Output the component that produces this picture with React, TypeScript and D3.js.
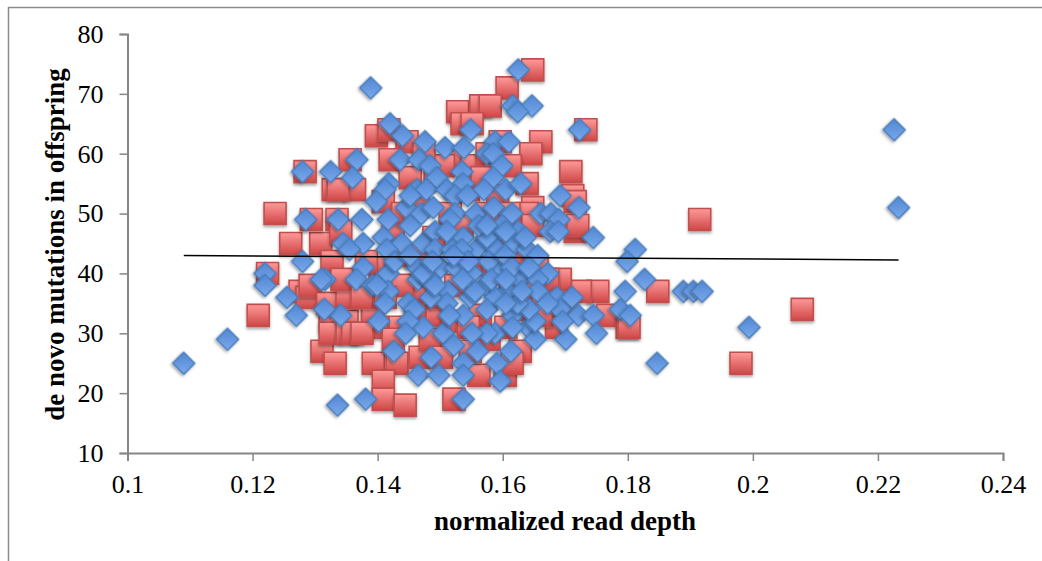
import React, { useEffect, useRef } from 'react'
import * as d3 from 'd3'

// normalized read depth, de novo mutations
const redPoints: [number, number][] = [
  [.1648,74],[.1607,71],[.1528,67],[.1565,68],[.158,68],[.1733,64],[.1398,63],[.1418,64],[.1447,62],[.1535,65],[.1551,65],
  [.1661,62],[.1645,60],[.1356,59],[.142,59],[.1709,57],[.1712,53],[.1329,54],[.1363,54],[.1452,56],[.1639,55],[.1648,51],
  [.1639,50],[.1716,52],[.1716,47],[.172,48],[.1648,48],[.1521,59],[.1596,62],[.1551,58],[.1612,58],[.1575,60],[.1409,52],
  [.1335,49],[.1284,57],[.1236,50],[.1261,45],[.1309,45],[.1294,49],[.1337,54],[.1224,40],[.1327,42],[.1341,47],[.1209,33],
  [.1311,27],[.1332,25],[.1276,37],[.1287,36],[.1292,38],[.1324,32],[.1351,32],[.1324,30],[.1351,30],[.132,35],[.136,30],
  [.1393,25],[.1431,25],[.1409,22],[.1409,19],[.1444,18],[.1522,19],[.1562,23],[.1604,23],[.1628,27],[.1615,25],[.1468,26],
  [.1503,28],[.1399,31],[.1351,36],[.1436,31],[.1484,29],[.1752,37],[.1724,37],[.1692,39],[.1768,33],[.1799,31],[.1686,31],
  [.1392,34],[.1392,33],[.1462,34],[.1564,33],[.1495,33],[.1915,49],[.1848,37],[.1802,31],[.2079,34],[.1981,25],[.1343,39],
  [.1375,36],[.1404,41],[.1425,47],[.144,50],[.1465,52],[.1492,56],[.1505,58],[.1474,60],[.1431,43],[.1462,43],[.149,46],
  [.1516,50],[.1545,54],[.1567,56],[.1592,53],[.161,50],[.1628,43],[.1655,41],[.1672,39],[.1642,37],[.1612,39],[.1584,41],
  [.1548,42],[.1525,38],[.1498,36],[.1468,37],[.144,38],[.1412,36],[.1382,42],[.152,32],[.1545,31],[.1578,29],[.1605,31],
  [.1635,34],[.1665,35],[.1702,35],[.1662,33],[.1548,27],[.1502,26],[.1425,29],[.1375,30],[.1596,45],[.1575,50],[.1535,48],
]

const bluePoints: [number, number][] = [
  [.1625,74],[.1389,71],[.1616,68],[.1647,68],[.1624,67],[.1723,64],[.1549,64],[.142,65],[.144,63],[.1476,62],[.1508,61],
  [.1538,61],[.1588,62],[.161,62],[.1575,60],[.1585,60],[.1367,59],[.136,56],[.1436,59],[.1466,59],[.1484,58],[.1599,58],
  [.1535,57],[.1495,56],[.1537,55],[.1585,56],[.1418,55],[.1412,54],[.1398,52],[.1463,54],[.1478,54],[.1511,54],[.1524,53],
  [.157,54],[.1605,54],[.1629,55],[.1692,53],[.1722,51],[.1544,53],[.1446,51],[.1452,53],[.147,50],[.1524,50],[.1516,49],
  [.1489,51],[.1557,50],[.1586,51],[.1615,50],[.1661,50],[.1677,50],[.169,49],[.1337,49],[.1375,49],[.1417,49],[.1452,48],
  [.1599,48],[.1625,47],[.1676,47],[.1689,47],[.1745,46],[.1345,45],[.1377,45],[.1409,46],[.1439,45],[.1473,45],[.1492,47],
  [.1537,46],[.1585,46],[.162,45],[.1639,44],[.1656,43],[.1355,44],[.1415,44],[.1492,44],[.1558,44],[.1519,44],[.1535,44],
  [.1592,44],[.1575,46],[.1636,46],[.1562,48],[.1575,48],[.1605,47],[.1511,47],[.1377,41],[.1366,39],[.1392,38],[.1417,40],
  [.1463,41],[.1501,41],[.1551,40],[.1596,41],[.1628,39],[.1672,40],[.1656,39],[.1572,38],[.1607,37],[.1656,37],[.1417,37],
  [.1465,39],[.1484,39],[.1473,40],[.1513,37],[.1548,36],[.1511,35],[.1412,35],[.1449,35],[.1459,34],[.1588,36],[.1687,36],
  [.1711,36],[.1692,34],[.1672,35],[.1721,33],[.1745,33],[.175,30],[.1701,29],[.1696,32],[.1641,31],[.1652,29],[.1652,32],
  [.1616,33],[.1642,34],[.1624,35],[.1588,30],[.1575,30],[.1616,31],[.1551,30],[.1537,33],[.1505,30],[.1522,28],[.156,27],
  [.1613,27],[.1591,25],[.1537,25],[.1486,26],[.1426,27],[.1473,31],[.1449,32],[.1445,30],[.1402,32],[.1341,33],[.1465,23],
  [.1498,23],[.1537,23],[.1596,22],[.1537,19],[.1381,19],[.1336,18],[.1316,39],[.1428,42],[.1556,37],[.1578,42],[.1525,41],
  [.1604,43],[.1545,42],[.1488,42],[.1615,41],[.1642,41],[.1631,37],[.1575,34],[.1605,35],[.1515,33],[.1485,36],[.1582,39],
  [.1536,39],[.1605,39],[.1492,38],[.1522,43],[.1452,43],[.1399,38],
  [.109,25],[.116,29],[.122,40],[.122,38],[.1255,36],[.127,33],[.128,42],[.128,57],[.1285,49],[.1325,57],[.131,39],[.1315,34],
  [.1812,44],[.1799,42],[.1827,39],[.1796,37],[.1788,34],[.1804,33],[.1847,25],[.1889,37],[.1905,37],[.1919,37],[.1994,31],
  [.2226,64],[.2233,51],
]

const trendX = [.109, .2233]
const trendY = [43, 42.25]

const xTicks = [.1, .12, .14, .16, .18, .2, .22, .24]
const yTicks = [10, 20, 30, 40, 50, 60, 70, 80]

const FONT = '"Liberation Serif", serif'
const GREY = '#868686'

export default function App() {
  const ref = useRef<SVGSVGElement>(null)

  useEffect(() => {
    const svg = d3.select(ref.current)
    svg.selectAll('*').remove()

    const x = d3.scaleLinear().domain([.1, .24]).range([127.5, 1003])
    const y = d3.scaleLinear().domain([10, 80]).range([453, 34])

    const defs = svg.append('defs')
    const grad = (id: string, top: string, bottom: string) => {
      const g = defs.append('linearGradient').attr('id', id).attr('x1', 0).attr('x2', 0).attr('y1', 0).attr('y2', 1)
      g.append('stop').attr('offset', '0%').attr('stop-color', top)
      g.append('stop').attr('offset', '100%').attr('stop-color', bottom)
    }
    grad('redFill', '#ff9a9a', '#cf4646')
    // diamonds are rotated squares, so this one runs corner to corner
    const blue = defs.append('linearGradient').attr('id', 'blueFill').attr('x1', 0).attr('y1', 0).attr('x2', 1).attr('y2', 1)
    blue.append('stop').attr('offset', '0%').attr('stop-color', '#5086d2')
    blue.append('stop').attr('offset', '100%').attr('stop-color', '#7aa9ec')
    const shadow = defs.append('filter').attr('id', 'shadow').attr('x', '-30%').attr('y', '-30%').attr('width', '160%').attr('height', '170%')
    shadow.append('feDropShadow').attr('dx', 0).attr('dy', 2).attr('stdDeviation', 1.5)
      .attr('flood-color', '#000').attr('flood-opacity', .35)

    // frame
    svg.append('path').attr('d', 'M8.5,561V7.5H1042').attr('fill', 'none').attr('stroke', '#8c8c8c').attr('stroke-width', 1.5)

    const square = d3.symbol().type(d3.symbolSquare).size(22 * 22)
    svg.append('g').selectAll('path').data(redPoints).join('path')
      .attr('d', () => square())
      .attr('transform', d => `translate(${x(d[0])},${y(d[1])})`)
      .attr('fill', 'url(#redFill)').attr('stroke', '#c0504d').attr('stroke-width', 1.6)
      .attr('filter', 'url(#shadow)')

    const diamond = d3.symbol().type(d3.symbolSquare).size(15.5 * 15.5)
    svg.append('g').selectAll('path').data(bluePoints).join('path')
      .attr('d', () => diamond())
      .attr('transform', d => `translate(${x(d[0])},${y(d[1])}) rotate(45)`)
      .attr('fill', 'url(#blueFill)').attr('stroke', '#4a7ebb').attr('stroke-width', 1.6)
      .attr('filter', 'url(#shadow)')

    const axisStyle = (g: any) => {
      g.select('.domain').attr('stroke', GREY).attr('stroke-width', 2)
      g.selectAll('.tick line').attr('stroke', GREY).attr('stroke-width', 1.5)
      g.selectAll('.tick text').attr('font-family', FONT).attr('font-size', 26).attr('fill', '#000')
    }
    svg.append('g').attr('transform', 'translate(127.5,0)')
      .call(d3.axisLeft(y).tickValues(yTicks).tickSize(8).tickSizeOuter(8).tickPadding(16))
      .call(axisStyle)
    svg.append('g').attr('transform', 'translate(0,453)')
      .call(d3.axisBottom(x).tickValues(xTicks).tickFormat(d => String(d)).tickSize(8).tickSizeOuter(8).tickPadding(13.5))
      .call(axisStyle)

    const line = d3.line<number>().x(d => x(d)).y((_, i) => y(trendY[i]))
    svg.append('path').attr('d', line(trendX)).attr('fill', 'none').attr('stroke', '#000').attr('stroke-width', 1.5)

    svg.append('text').text('normalized read depth')
      .attr('x', 565).attr('y', 530).attr('text-anchor', 'middle')
      .attr('font-family', FONT).attr('font-weight', 'bold').attr('font-size', 27)
    svg.append('text').text('de novo mutations in offspring')
      .attr('transform', 'translate(63.5,244.5) rotate(-90)').attr('text-anchor', 'middle')
      .attr('font-family', FONT).attr('font-weight', 'bold').attr('font-size', 27)
  }, [])

  return <svg ref={ref} width={1042} height={561} style={{ position: 'absolute', left: 0, top: 0, background: '#fff' }} />
}
